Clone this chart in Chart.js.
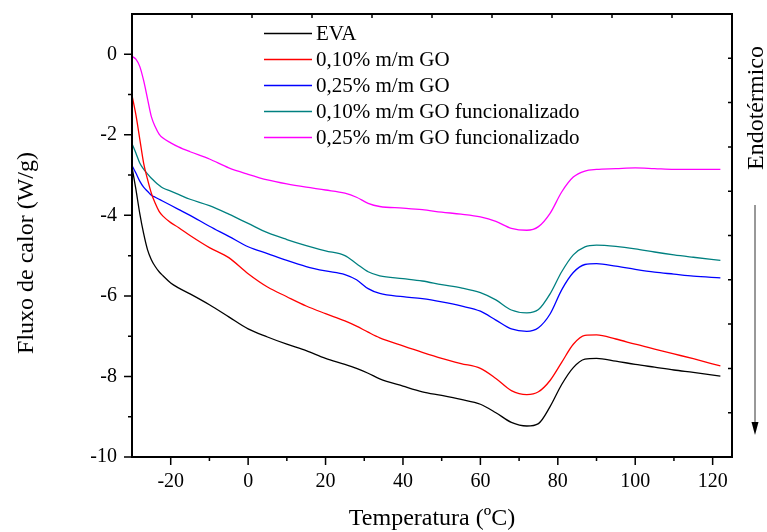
<!DOCTYPE html>
<html>
<head>
<meta charset="utf-8">
<script src="https://cdn.jsdelivr.net/npm/chart.js@4.4.1/dist/chart.umd.min.js"></script>
<style>
  html, body { margin: 0; padding: 0; background: #fff; }
</style>
</head>
<body>
<canvas id="dscChart" width="767" height="532"></canvas>
<script>
// -- Data --
const temperatura = [-30, -29, -28, -27, -26, -25, -24, -23, -22, -20, -18, -15, -10, -5, 0, 5, 10, 15, 20, 25, 28, 31, 34,
                     40, 45, 50, 55, 60, 64, 68, 72, 75, 78, 81, 84, 87, 90, 95, 100, 105, 110, 115, 122];

const eva = [-2.8, -3.35, -3.95, -4.45, -4.85, -5.1, -5.27, -5.4, -5.5, -5.68, -5.8, -5.95, -6.22, -6.52, -6.82, -7.02, -7.2, -7.36, -7.55, -7.7, -7.8, -7.92, -8.06,
             -8.24, -8.38, -8.47, -8.57, -8.69, -8.9, -9.14, -9.23, -9.17, -8.75, -8.2, -7.78, -7.57, -7.55, -7.62, -7.7, -7.77, -7.84, -7.9, -7.99];

const go010 = [-1.02, -1.5, -2.1, -2.7, -3.1, -3.45, -3.7, -3.9, -4.02, -4.18, -4.3, -4.5, -4.8, -5.05, -5.45, -5.78, -6.02, -6.25, -6.44, -6.62, -6.75, -6.9, -7.04,
               -7.24, -7.4, -7.55, -7.68, -7.8, -8.05, -8.35, -8.45, -8.38, -8.1, -7.65, -7.2, -6.98, -6.97, -7.07, -7.2, -7.32, -7.44, -7.56, -7.74];

const go025 = [-2.76, -2.95, -3.15, -3.3, -3.4, -3.5, -3.55, -3.6, -3.65, -3.75, -3.85, -4.0, -4.27, -4.52, -4.78, -4.95, -5.12, -5.27, -5.38, -5.47, -5.6, -5.82, -5.94,
               -6.02, -6.07, -6.15, -6.25, -6.38, -6.6, -6.82, -6.88, -6.79, -6.45, -5.85, -5.42, -5.22, -5.2, -5.26, -5.34, -5.41, -5.46, -5.51, -5.55];

const gof010 = [-2.22, -2.45, -2.7, -2.85, -2.97, -3.08, -3.17, -3.25, -3.32, -3.4, -3.48, -3.6, -3.76, -3.97, -4.2, -4.43, -4.6, -4.75, -4.88, -5.0, -5.2, -5.4, -5.5,
                -5.57, -5.63, -5.72, -5.8, -5.92, -6.1, -6.35, -6.42, -6.34, -5.95, -5.4, -4.98, -4.78, -4.74, -4.77, -4.83, -4.91, -4.98, -5.04, -5.12];

const gof025 = [-0.05, -0.12, -0.3, -0.65, -1.1, -1.55, -1.8, -1.98, -2.08, -2.2, -2.3, -2.42, -2.6, -2.82, -2.98, -3.12, -3.22, -3.3, -3.37, -3.45, -3.55, -3.7, -3.78,
                -3.82, -3.86, -3.92, -3.97, -4.04, -4.15, -4.32, -4.37, -4.28, -3.95, -3.42, -3.05, -2.9, -2.86, -2.84, -2.82, -2.84, -2.86, -2.86, -2.86];

const nomes = ['EVA', '0,10% m/m GO', '0,25% m/m GO', '0,10% m/m GO funcionalizado', '0,25% m/m GO funcionalizado'];
const cores = ['#000000', '#ff0000', '#0000ff', '#008080', '#ff00ff'];
const series = [eva, go010, go025, gof010, gof025];

const xTicks = [-20, 0, 20, 40, 60, 80, 100, 120];
const xMinor = [-10, 10, 30, 50, 70, 90, 110];
const yTicks = [0, -2, -4, -6, -8, -10];
const yMinor = [-1, -3, -5, -7, -9];

const FONT = "'Liberation Serif', 'Times New Roman', serif";

// -- Frame, ticks, legend and titles (Origin style) --
const decoracao = {
    id: 'decoracao',
    afterDraw(chart) {
        const ctx = chart.ctx;
        const a = chart.chartArea;
        const xs = chart.scales.x, ys = chart.scales.y;
        ctx.save();
        ctx.strokeStyle = '#000';
        ctx.lineWidth = 2;
        ctx.strokeRect(a.left, a.top, a.right - a.left, a.bottom - a.top);

        ctx.lineWidth = 1.5;
        ctx.beginPath();
        xTicks.forEach(v => { const p = xs.getPixelForValue(v); ctx.moveTo(p, a.bottom); ctx.lineTo(p, a.bottom + 8); });
        xMinor.forEach(v => { const p = xs.getPixelForValue(v); ctx.moveTo(p, a.bottom); ctx.lineTo(p, a.bottom + 4); });
        yTicks.forEach(v => { const p = ys.getPixelForValue(v); ctx.moveTo(a.left, p); ctx.lineTo(a.left - 8, p); });
        yMinor.forEach(v => { const p = ys.getPixelForValue(v); ctx.moveTo(a.left, p); ctx.lineTo(a.left - 4, p); });
        // eixos espelhados (topo e direita) com ticks internos
        for (let i = 1; i < 10; i++) {
            const px = a.left + i * (a.right - a.left) / 10;
            ctx.moveTo(px, a.top); ctx.lineTo(px, a.top + 4);
            const py = a.top + i * (a.bottom - a.top) / 10;
            ctx.moveTo(a.right, py); ctx.lineTo(a.right - 4, py);
        }
        ctx.stroke();

        // legenda
        ctx.font = '21px ' + FONT;
        ctx.textBaseline = 'middle';
        ctx.textAlign = 'left';
        nomes.forEach((n, i) => {
            const y = 33.5 + i * 26;
            ctx.strokeStyle = cores[i];
            ctx.lineWidth = 1.3;
            ctx.beginPath(); ctx.moveTo(264, y); ctx.lineTo(312, y); ctx.stroke();
            ctx.fillStyle = '#000';
            ctx.fillText(n, 316, y + 1);
        });

        // titulos
        ctx.font = '24px ' + FONT;
        ctx.textAlign = 'center';
        ctx.fillText('Temperatura (ºC)', (a.left + a.right) / 2, 519);
        ctx.save();
        ctx.translate(27, 253);
        ctx.rotate(-Math.PI / 2);
        ctx.fillText('Fluxo de calor (W/g)', 0, 0);
        ctx.restore();
        ctx.save();
        ctx.translate(757, 108);
        ctx.rotate(-Math.PI / 2);
        ctx.fillText('Endotérmico', 0, 0);
        ctx.restore();

        // seta endotérmico
        ctx.strokeStyle = '#333';
        ctx.fillStyle = '#000';
        ctx.lineWidth = 1;
        ctx.beginPath(); ctx.moveTo(755, 205); ctx.lineTo(755, 425); ctx.stroke();
        ctx.beginPath(); ctx.moveTo(751.5, 422); ctx.lineTo(758.5, 422); ctx.lineTo(755, 435); ctx.closePath(); ctx.fill();
        ctx.restore();
    }
};

const ctx = document.getElementById('dscChart').getContext('2d');
const dscChart = new Chart(ctx, {
    type: 'line',
    data: {
        datasets: series.map((s, i) => ({
            label: nomes[i],
            data: temperatura.map((t, k) => ({ x: t, y: s[k] })),
            borderColor: cores[i],
            borderWidth: 1.3,
            pointRadius: 0,
            fill: false,
            cubicInterpolationMode: 'monotone'
        }))
    },
    options: {
        responsive: false,
        devicePixelRatio: 1,
        animation: false,
        layout: { padding: { left: 0, top: 14, right: 35, bottom: 0 } },
        scales: {
            x: {
                type: 'linear',
                min: -30,
                max: 125,
                afterBuildTicks: s => { s.ticks = xTicks.map(v => ({ value: v })); },
                afterFit: s => { s.height = 75; s.paddingLeft = 0; s.paddingRight = 0; },
                grid: { display: false },
                border: { display: false },
                ticks: { color: '#000', font: { family: FONT, size: 20 }, padding: 5, maxRotation: 0, autoSkip: false }
            },
            y: {
                type: 'linear',
                min: -10,
                max: 1,
                afterBuildTicks: s => { s.ticks = yTicks.map(v => ({ value: v })); },
                afterFit: s => { s.width = 132; s.paddingTop = 0; s.paddingBottom = 0; },
                grid: { display: false },
                border: { display: false },
                ticks: { color: '#000', font: { family: FONT, size: 20 }, padding: 7, autoSkip: false }
            }
        },
        plugins: {
            legend: { display: false },
            tooltip: { enabled: false }
        }
    },
    plugins: [decoracao]
});
</script>
</body>
</html>
